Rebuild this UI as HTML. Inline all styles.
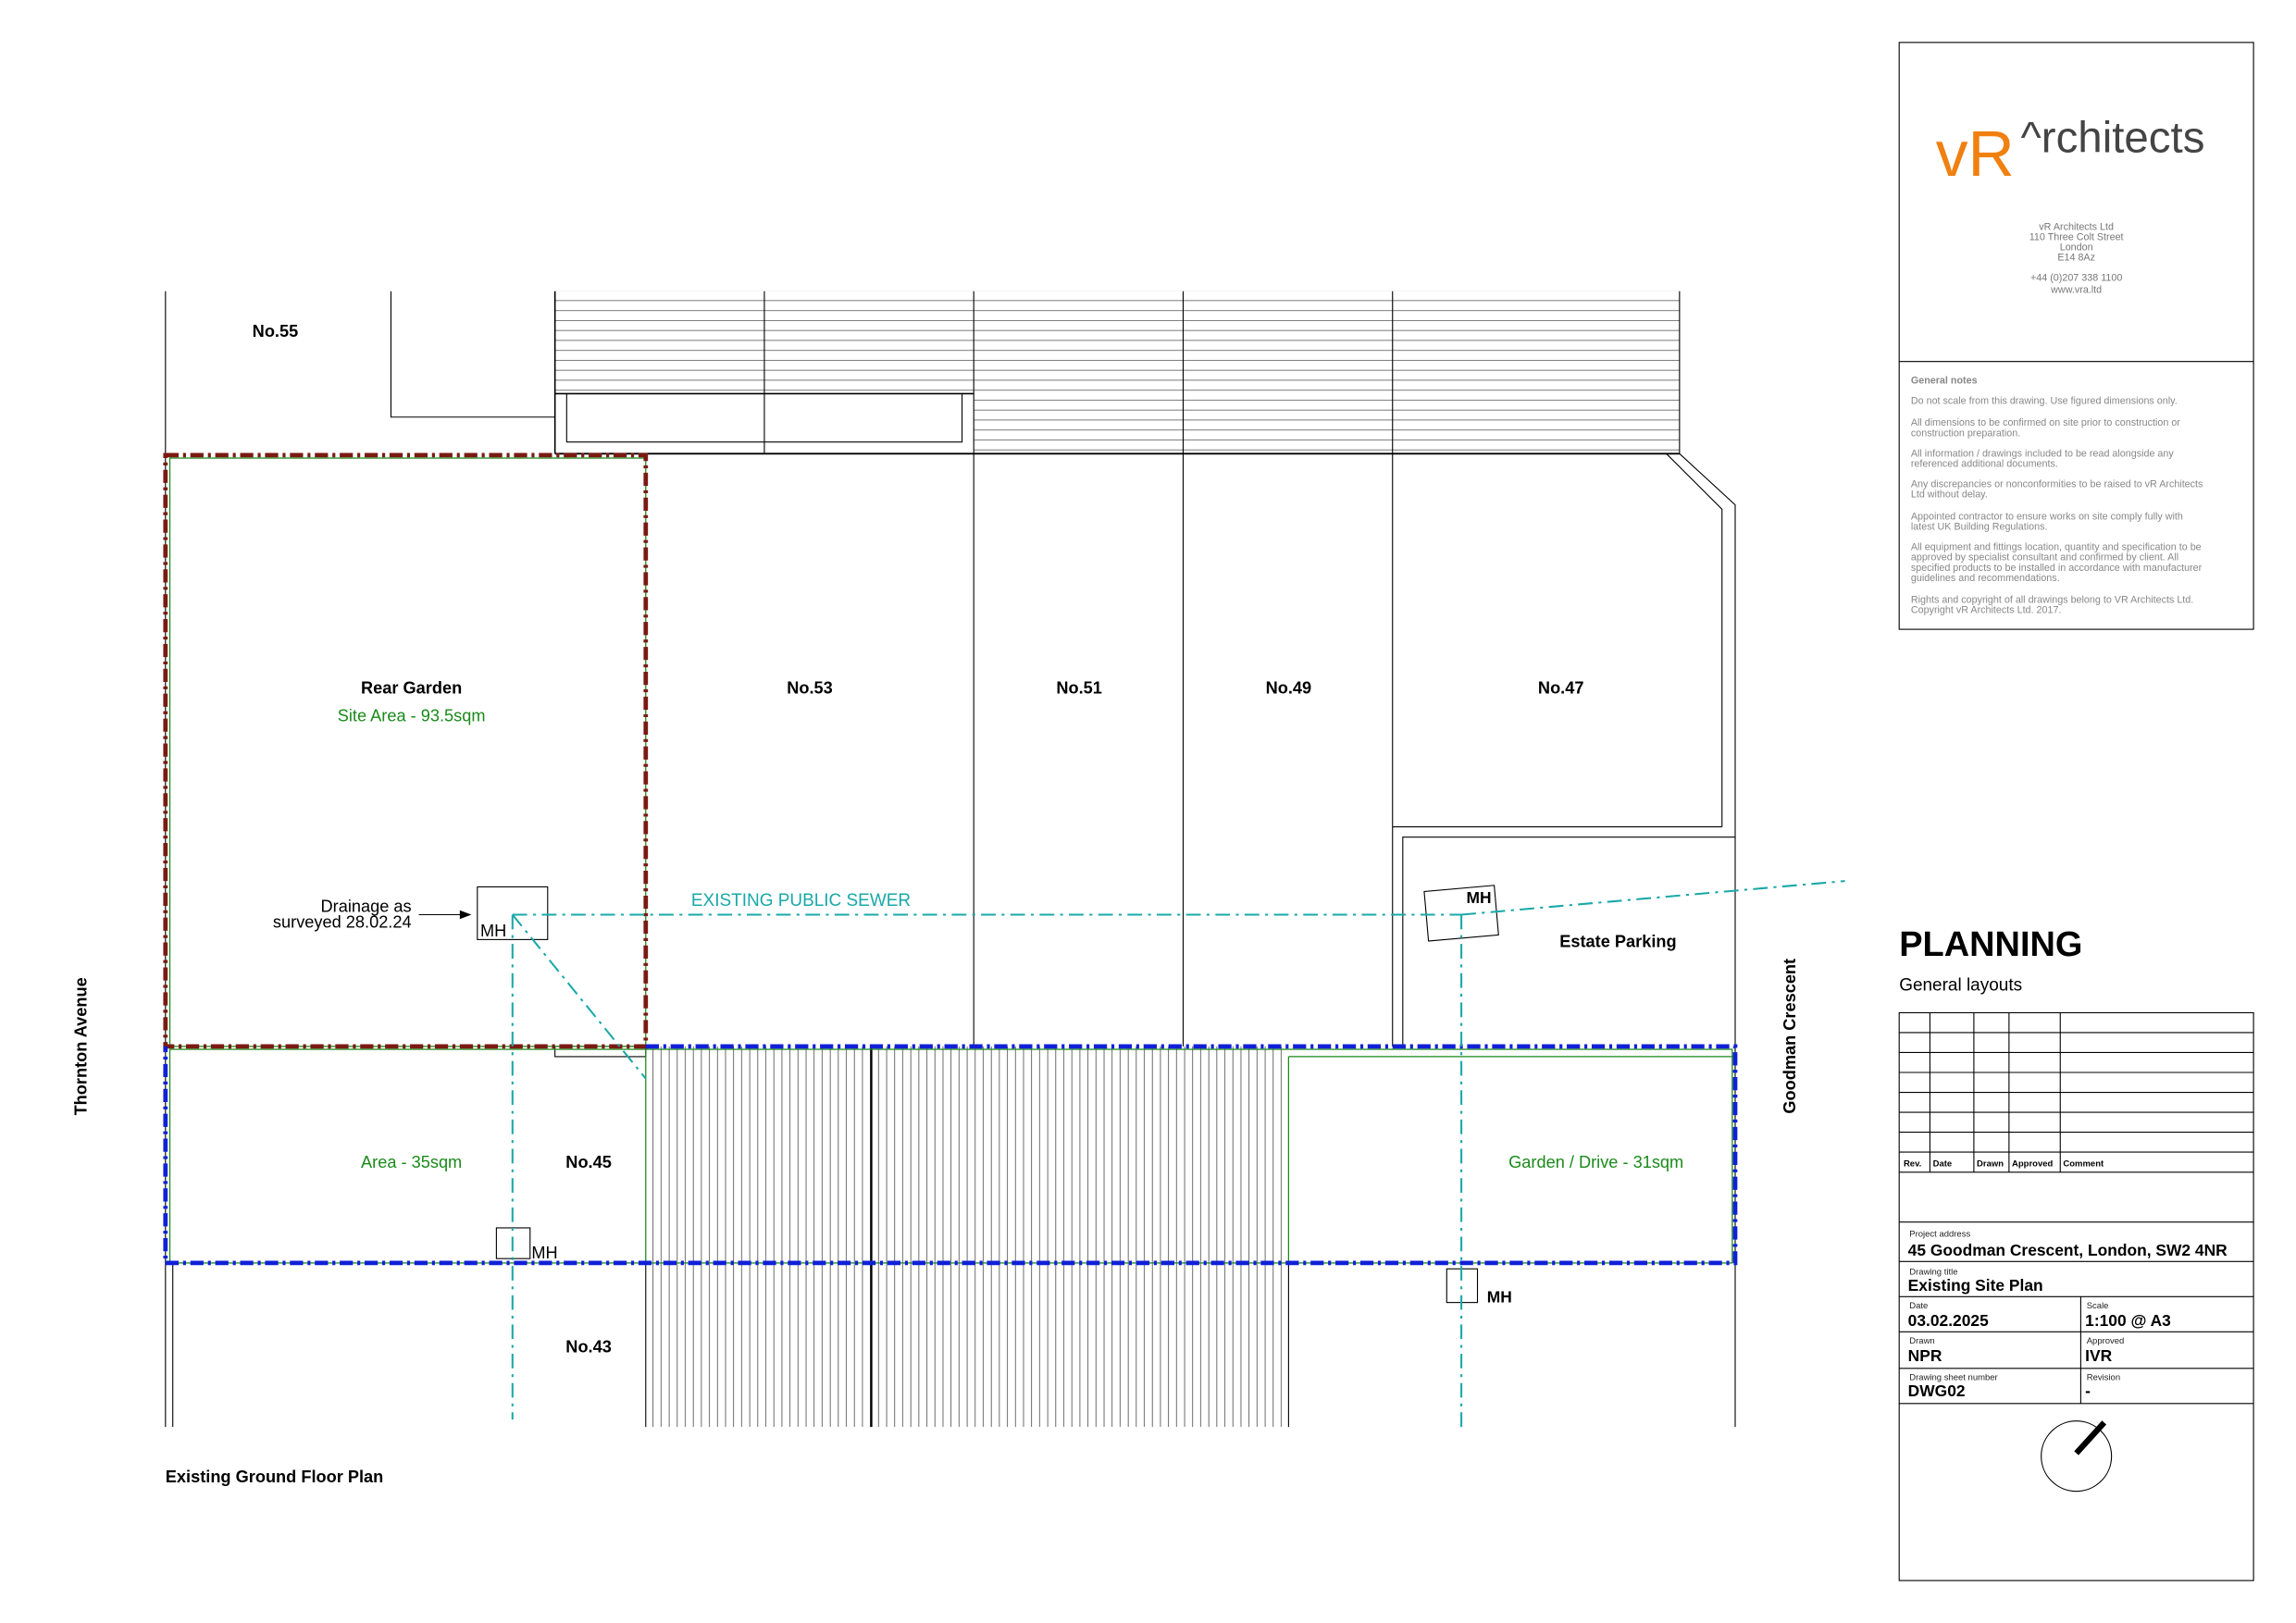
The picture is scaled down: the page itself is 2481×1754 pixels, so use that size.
<!DOCTYPE html>
<html><head><meta charset="utf-8"><style>
html,body{margin:0;padding:0;background:#fff}
svg{display:block}
text{font-family:"Liberation Sans",Arial,sans-serif}
</style></head><body>
<svg width="2481" height="1754" viewBox="0 0 1568 1109" preserveAspectRatio="none" xmlns="http://www.w3.org/2000/svg">
<defs>
<pattern id="hh" x="0" y="199" width="10" height="6.8" patternUnits="userSpaceOnUse"><line x1="0" y1="6.4" x2="10" y2="6.4" stroke="#555" stroke-width="0.5"/></pattern>
<pattern id="vh" x="441" y="0" width="5.5" height="10" patternUnits="userSpaceOnUse"><line x1="5" y1="0" x2="5" y2="10" stroke="#444" stroke-width="0.5"/></pattern>
</defs>
<rect width="1568" height="1109" fill="#fff"/>
<g stroke="#000" stroke-width="0.7" fill="none">
<!-- No.55 -->
<line x1="113" y1="199" x2="113" y2="975"/>
<polyline points="267,199 267,285 379,285"/>
<!-- hatched roofs -->
<rect x="379" y="199" width="286" height="69" fill="url(#hh)" stroke="none"/>
<rect x="665" y="199" width="482" height="111" fill="url(#hh)" stroke="none"/>
<line x1="379" y1="199" x2="379" y2="310" stroke-width="1"/>
<line x1="522" y1="199" x2="522" y2="310"/>
<line x1="665" y1="199" x2="665" y2="715"/>
<line x1="808" y1="199" x2="808" y2="715"/>
<line x1="951" y1="199" x2="951" y2="715"/>
<line x1="1147" y1="199" x2="1147" y2="310"/>
<line x1="379" y1="269" x2="665" y2="269" stroke-width="1"/>
<polyline points="387,269 387,302 657,302 657,269"/>
<line x1="379" y1="310" x2="1147" y2="310" stroke-width="1.2"/>
<polyline points="1138,310 1176,348 1176,565"/>
<polyline points="1147,310 1185,345 1185,975"/>
<line x1="951" y1="565" x2="1176" y2="565"/>
<polyline points="958,715 958,572 1185,572"/>
<!-- vertical hatch -->
<rect x="441" y="715" width="439" height="260" fill="url(#vh)" stroke="none"/>
<line x1="441" y1="863" x2="441" y2="975"/>
<line x1="880" y1="863" x2="880" y2="975"/>
<line x1="595" y1="715" x2="595" y2="975" stroke-width="1.5"/>
<line x1="118" y1="863" x2="118" y2="975"/>
<rect x="379" y="715" width="62" height="7"/>
<!-- MH boxes -->
<rect x="326" y="606" width="48" height="36"/>
<rect x="974" y="607" width="48" height="34" transform="rotate(-5 998 624)"/>
<rect x="339" y="839" width="23" height="21"/>
<rect x="988" y="867" width="21" height="23"/>
<!-- compass -->
</g>
<!-- green lines -->
<g stroke="#1a8a1a" stroke-width="0.8" fill="none">
<line x1="441" y1="715" x2="441" y2="863"/>
<line x1="880" y1="722" x2="880" y2="863"/>
<line x1="880" y1="722" x2="1185" y2="722"/>
<rect x="116" y="313" width="325" height="402"/>
<rect x="116" y="717" width="1067" height="146"/>
</g>
<!-- red boundary -->
<rect x="113" y="311" width="328" height="404" fill="none" stroke="#7a1a12" stroke-width="3" stroke-dasharray="9,3,2,3"/>
<!-- blue boundary -->
<path d="M441,715 H1185 V863 H113 V715" fill="none" stroke="#1020d8" stroke-width="3" stroke-dasharray="9,3,2,3"/>
<!-- sewer -->
<g stroke="#1aa8a8" stroke-width="1.3" fill="none" stroke-dasharray="10,4,2,4">
<line x1="350" y1="625" x2="998" y2="625"/>
<line x1="350" y1="625" x2="350" y2="970"/>
<line x1="350" y1="625" x2="441" y2="737"/>
<line x1="998" y1="625" x2="998" y2="975"/>
<line x1="998" y1="625" x2="1260" y2="602"/>
</g>
<!-- arrow -->
<line x1="286" y1="625" x2="316" y2="625" stroke="#000" stroke-width="0.7"/>
<polygon points="322,625 314,622 314,628" fill="#000"/>
<!-- labels -->
<g font-size="11.5" font-weight="bold" fill="#000" text-anchor="middle">
<text x="188" y="230">No.55</text>
<text x="281" y="474">Rear Garden</text>
<text x="553" y="474">No.53</text>
<text x="737" y="474">No.51</text>
<text x="880" y="474">No.49</text>
<text x="1066" y="474">No.47</text>
<text x="1105" y="647">Estate Parking</text>
<text x="402" y="798">No.45</text>
<text x="402" y="924">No.43</text>
<text x="1010" y="617" font-size="11">MH</text>
<text x="1024" y="890" font-size="11">MH</text>
</g>
<g font-size="11.5" fill="#1a8a1a" text-anchor="middle">
<text x="281" y="493">Site Area - 93.5sqm</text>
<text x="281" y="798">Area - 35sqm</text>
<text x="1090" y="798">Garden / Drive - 31sqm</text>
</g>
<text x="547" y="619" font-size="12" fill="#1aa8a8" text-anchor="middle">EXISTING PUBLIC SEWER</text>
<g font-size="11.5" fill="#000">
<text x="281" y="623" text-anchor="end">Drainage as</text>
<text x="281" y="634" text-anchor="end">surveyed 28.02.24</text>
<text x="328" y="640">MH</text>
<text x="363" y="860">MH</text>
</g>
<text transform="translate(59,715) rotate(-90)" font-size="11.5" font-weight="bold" text-anchor="middle">Thornton Avenue</text>
<text transform="translate(1226,708) rotate(-90)" font-size="11.5" font-weight="bold" text-anchor="middle">Goodman Crescent</text>
<text x="113" y="1013" font-size="11.5" font-weight="bold">Existing Ground Floor Plan</text>

<!-- title block -->
<g stroke="#000" stroke-width="0.7" fill="none">
<rect x="1297" y="29" width="242" height="401"/>
<line x1="1297" y1="247" x2="1539" y2="247"/>
<rect x="1297" y="692" width="242" height="388"/>
<line x1="1318" y1="692" x2="1318" y2="801"/>
<line x1="1348" y1="692" x2="1348" y2="801"/>
<line x1="1372" y1="692" x2="1372" y2="801"/>
<line x1="1407" y1="692" x2="1407" y2="801"/>
<line x1="1297" y1="705.6" x2="1539" y2="705.6"/>
<line x1="1297" y1="719.2" x2="1539" y2="719.2"/>
<line x1="1297" y1="732.8" x2="1539" y2="732.8"/>
<line x1="1297" y1="746.4" x2="1539" y2="746.4"/>
<line x1="1297" y1="760" x2="1539" y2="760"/>
<line x1="1297" y1="773.6" x2="1539" y2="773.6"/>
<line x1="1297" y1="787.2" x2="1539" y2="787.2"/>
<line x1="1297" y1="801" x2="1539" y2="801"/>
<line x1="1297" y1="835" x2="1539" y2="835"/>
<line x1="1297" y1="862" x2="1539" y2="862"/>
<line x1="1297" y1="886" x2="1539" y2="886"/>
<line x1="1297" y1="910" x2="1539" y2="910"/>
<line x1="1297" y1="935" x2="1539" y2="935"/>
<line x1="1297" y1="959" x2="1539" y2="959"/>
<line x1="1421" y1="886" x2="1421" y2="959"/>
<ellipse cx="1418" cy="995" rx="24" ry="24"/>
</g>
<line x1="1418" y1="993" x2="1437" y2="972" stroke="#000" stroke-width="4"/>
<text x="1322" y="120" font-size="44" fill="#f08010" font-family="'DejaVu Sans',sans-serif">vR</text>
<text x="1380" y="104" font-size="30" fill="#444" font-family="'DejaVu Sans',sans-serif">^rchitects</text>
<g font-size="6.8" fill="#777" text-anchor="middle">
<text x="1418" y="157">vR Architects Ltd</text>
<text x="1418" y="164">110 Three Colt Street</text>
<text x="1418" y="171">London</text>
<text x="1418" y="178">E14 8Az</text>
<text x="1418" y="192">+44 (0)207 338 1100</text>
<text x="1418" y="200">www.vra.ltd</text>
</g>
<g font-size="6.8" fill="#888">
<text x="1305" y="262" font-weight="bold">General notes</text>
<text x="1305" y="276">Do not scale from this drawing. Use figured dimensions only.</text>
<text x="1305" y="291">All dimensions to be confirmed on site prior to construction or</text>
<text x="1305" y="298">construction preparation.</text>
<text x="1305" y="312">All information / drawings included to be read alongside any</text>
<text x="1305" y="319">referenced additional documents.</text>
<text x="1305" y="333">Any discrepancies or nonconformities to be raised to vR Architects</text>
<text x="1305" y="340">Ltd without delay.</text>
<text x="1305" y="355">Appointed contractor to ensure works on site comply fully with</text>
<text x="1305" y="362">latest UK Building Regulations.</text>
<text x="1305" y="376">All equipment and fittings location, quantity and specification to be</text>
<text x="1305" y="383">approved by specialist consultant and confirmed by client. All</text>
<text x="1305" y="390">specified products to be installed in accordance with manufacturer</text>
<text x="1305" y="397">guidelines and recommendations.</text>
<text x="1305" y="412">Rights and copyright of all drawings belong to VR Architects Ltd.</text>
<text x="1305" y="419">Copyright vR Architects Ltd. 2017.</text>
</g>
<text x="1297" y="653" font-size="24" font-weight="bold">PLANNING</text>
<text x="1297" y="677" font-size="12">General layouts</text>
<g font-size="6" font-weight="bold">
<text x="1300" y="797">Rev.</text><text x="1320" y="797">Date</text><text x="1350" y="797">Drawn</text><text x="1374" y="797">Approved</text><text x="1409" y="797">Comment</text>
</g>
<g font-size="6" fill="#222">
<text x="1304" y="845">Project address</text>
<text x="1304" y="871">Drawing title</text>
<text x="1304" y="894">Date</text>
<text x="1425" y="894">Scale</text>
<text x="1304" y="918">Drawn</text>
<text x="1425" y="918">Approved</text>
<text x="1304" y="943">Drawing sheet number</text>
<text x="1425" y="943">Revision</text>
</g>
<g font-size="11" font-weight="bold">
<text x="1303" y="858">45 Goodman Crescent, London, SW2 4NR</text>
<text x="1303" y="882">Existing Site Plan</text>
<text x="1303" y="906">03.02.2025</text>
<text x="1424" y="906">1:100 @ A3</text>
<text x="1303" y="930">NPR</text>
<text x="1424" y="930">IVR</text>
<text x="1303" y="954">DWG02</text>
<text x="1424" y="954">-</text>
</g>
</svg>
</body></html>
